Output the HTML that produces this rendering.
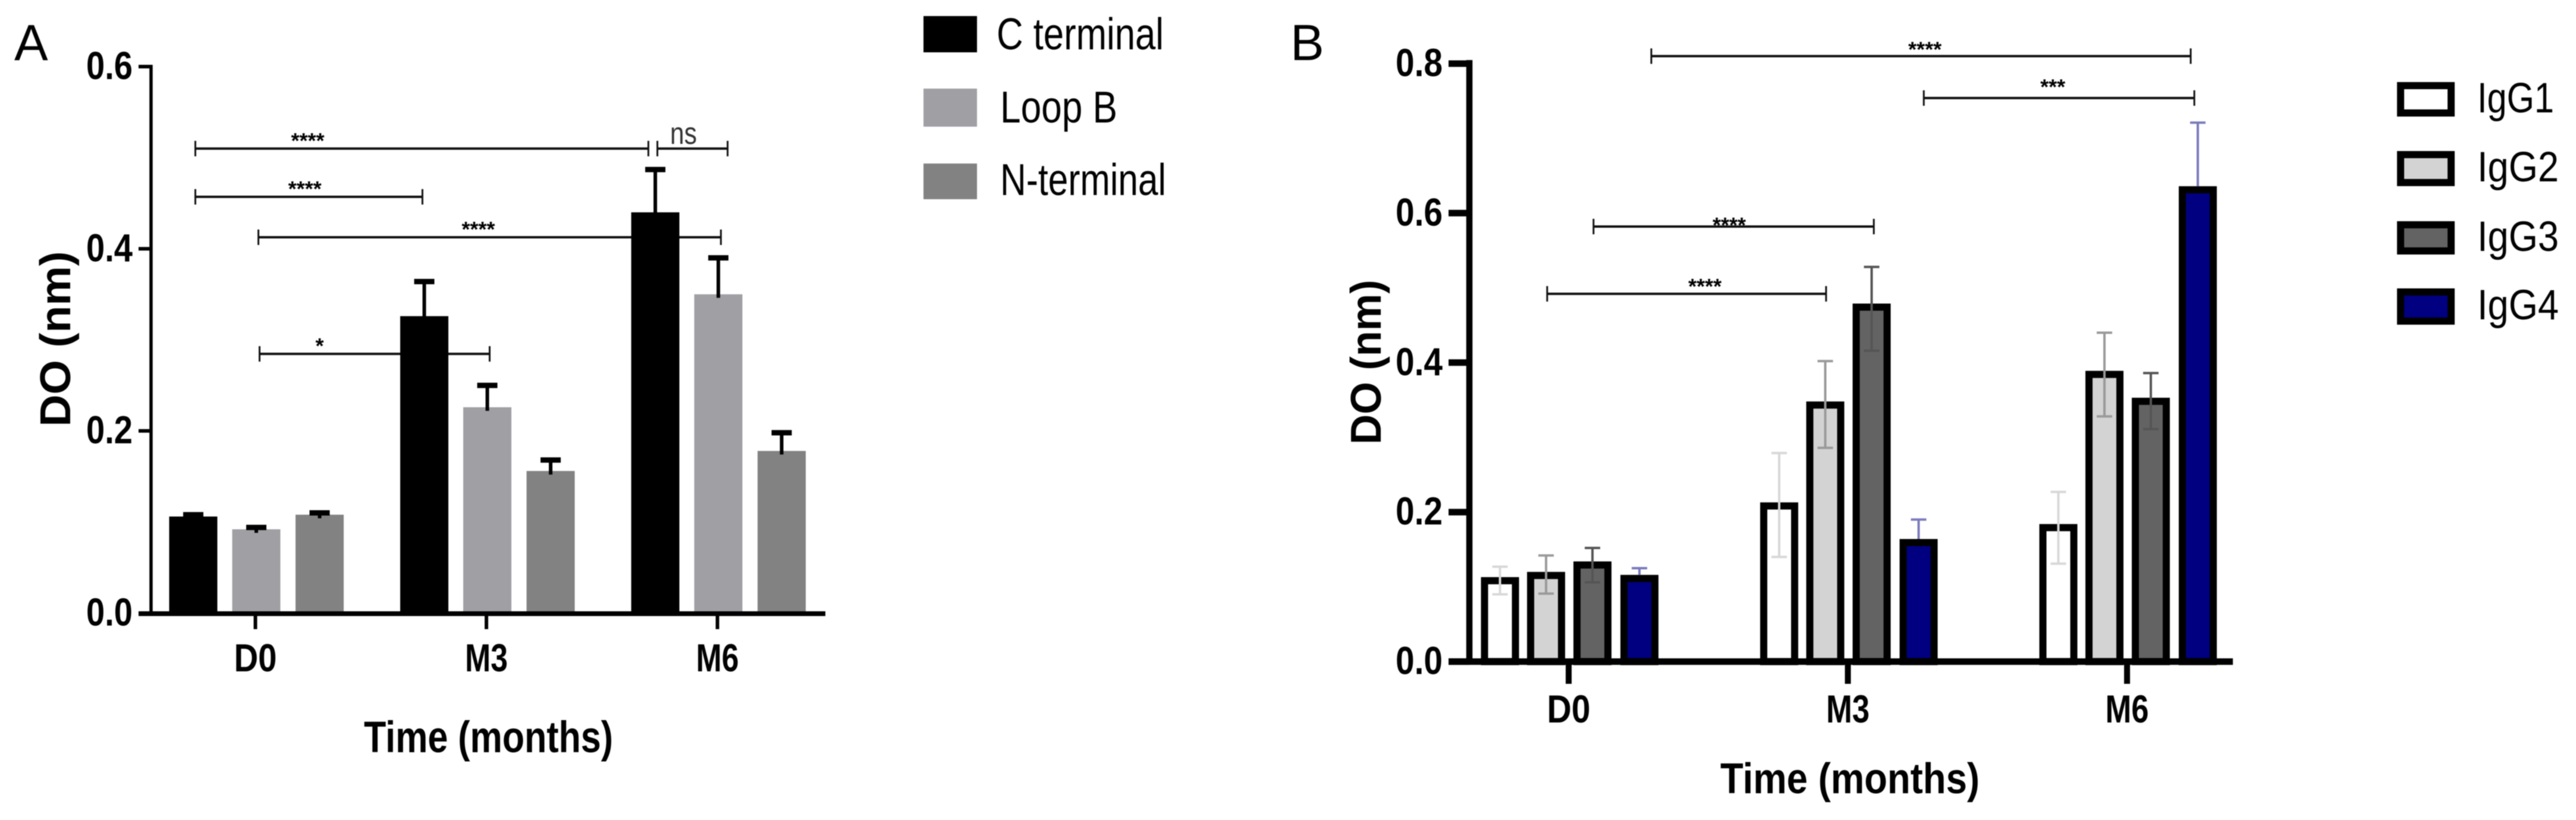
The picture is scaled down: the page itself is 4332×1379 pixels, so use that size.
<!DOCTYPE html>
<html lang="en">
<head>
<meta charset="utf-8">
<title>DO by time point: peptide regions and IgG subclasses</title>
<style>
  html, body { margin: 0; padding: 0; background: #fff; }
  svg { display: block; }
  text { font-family: "Liberation Sans", sans-serif; fill: #000; }
  .soft { filter: blur(0.9px); }
  .tick { font-weight: 700; font-size: 66px; }
  .title { font-weight: 700; font-size: 72px; }
  .legend { font-size: 75px; }
  .legend-b { font-size: 71px; }
  .letter { font-size: 85px; }
  .star { font-weight: 700; font-size: 36px; }
  .ns { font-size: 52px; fill: #333; }
</style>
</head>
<body>
<svg id="fig" xmlns="http://www.w3.org/2000/svg" width="4332" height="1379" viewBox="0 0 4332 1379">
  <rect width="4332" height="1379" fill="#fff"/>
  <g class="soft">
    <text class="letter" x="24" y="101">A</text>
    <text class="title" text-anchor="middle" transform="translate(118,570) rotate(-90)" textLength="295" lengthAdjust="spacingAndGlyphs">DO (nm)</text>
    <text class="title" style="font-size:74px" x="612" y="1265" textLength="419" lengthAdjust="spacingAndGlyphs">Time (months)</text>
    <g id="panelA"></g>
    <g>
      <g>
        <rect x="1553" y="27" width="90" height="61" fill="#000"/>
        <text class="legend" x="1676" y="83" textLength="281" lengthAdjust="spacingAndGlyphs">C terminal</text>
      </g>
      <g>
        <rect x="1553" y="149" width="90" height="64" fill="#a0a0a4"/>
        <text class="legend" x="1682" y="206" textLength="197" lengthAdjust="spacingAndGlyphs">Loop B</text>
      </g>
      <g>
        <rect x="1553" y="275" width="90" height="60" fill="#828282"/>
        <text class="legend" x="1682" y="328" textLength="279" lengthAdjust="spacingAndGlyphs">N-terminal</text>
      </g>
    </g>
  </g>
  <g class="soft">
    <text class="letter" x="2170" y="101">B</text>
    <text class="title" text-anchor="middle" transform="translate(2322,609) rotate(-90)" textLength="277" lengthAdjust="spacingAndGlyphs">DO (nm)</text>
    <text class="title" x="2893" y="1334" textLength="436" lengthAdjust="spacingAndGlyphs">Time (months)</text>
    <g id="panelB"></g>
    <g>
      <g>
        <rect x="4037" y="144" width="85" height="46" fill="#fff" stroke="#000" stroke-width="12"/>
        <text class="legend-b" x="4166" y="189" textLength="129" lengthAdjust="spacingAndGlyphs">IgG1</text>
      </g>
      <g>
        <rect x="4037" y="260" width="85" height="47" fill="#d3d3d3" stroke="#000" stroke-width="12"/>
        <text class="legend-b" x="4166" y="305" textLength="137" lengthAdjust="spacingAndGlyphs">IgG2</text>
      </g>
      <g>
        <rect x="4037" y="378" width="85" height="44" fill="#636363" stroke="#000" stroke-width="12"/>
        <text class="legend-b" x="4166" y="422" textLength="137" lengthAdjust="spacingAndGlyphs">IgG3</text>
      </g>
      <g>
        <rect x="4037" y="491" width="85" height="49" fill="#000080" stroke="#000" stroke-width="12"/>
        <text class="legend-b" x="4166" y="537" textLength="137" lengthAdjust="spacingAndGlyphs">IgG4</text>
      </g>
    </g>
  </g>
</svg>
<script>
// ---- Panel A data ----
const aCategories = ['D0', 'M3', 'M6'];
const aYTicks = [0, 0.2, 0.4, 0.6];
const aCTerminal = [0.106, 0.326, 0.44];
const aLoopB = [0.092, 0.226, 0.35];
const aNTerminal = [0.108, 0.156, 0.178];
const aCTerminalErr = [0.002, 0.038, 0.047];
const aLoopBErr = [0.002, 0.024, 0.04];
const aNTerminalErr = [0.002, 0.012, 0.02];
const aBracketFrom = [-0.26, -0.26, 0.013, 0.018, 1.74];
const aBracketTo = [1.701, 0.723, 2.015, 1.014, 2.044];
const aBracketLevel = [0.51, 0.457, 0.4126, 0.2846, 0.51];
const aBracketText = ['****', '****', '****', '*', 'ns'];
const aBracketTextAt = [0.2265, 0.214, 0.965, 0.278, 1.853];

// ---- Panel B data ----
const bCategories = ['D0', 'M3', 'M6'];
const bYTicks = [0, 0.2, 0.4, 0.6, 0.8];
const bIgG1 = [0.113, 0.213, 0.184];
const bIgG2 = [0.12, 0.348, 0.389];
const bIgG3 = [0.134, 0.479, 0.353];
const bIgG4 = [0.116, 0.164, 0.636];
const bIgG1High = [0.127, 0.279, 0.227];
const bIgG2High = [0.142, 0.402, 0.44];
const bIgG3High = [0.152, 0.528, 0.386];
const bIgG4High = [0.125, 0.19, 0.721];
const bIgG1Low = [0.09, 0.14, 0.131];
const bIgG2Low = [0.091, 0.286, 0.328];
const bIgG3Low = [0.106, 0.416, 0.311];
const bBracketFrom = [0.296, 1.272, 0.089, -0.077];
const bBracketTo = [2.228, 2.241, 1.093, 0.922];
const bBracketLevel = [0.81, 0.754, 0.582, 0.492];
const bBracketText = ['****', '***', '****', '****'];
const bBracketTextAt = [1.276, 1.734, 0.575, 0.488];
const bBracketTextLevel = [0.809, 0.759, 0.574, 0.492];

const SVG_NS = 'http://www.w3.org/2000/svg';
function make(tag, parent, attrs) {
  const node = document.createElementNS(SVG_NS, tag);
  for (const k in attrs) node.setAttribute(k, attrs[k]);
  parent.appendChild(node);
  return node;
}

// ---- Panel A scales ----
const aY = v => 1031 - v * (919 / 0.6);
const aX = c => 429.5 + 388.5 * c;
const aOffsets = [-104.5, 1.5, 108];
const aFills = ['#000000', '#a0a0a4', '#828282'];
const aSlugs = ['c-terminal', 'loop-b', 'n-terminal'];
const aSeries = [aCTerminal, aLoopB, aNTerminal];
const aSeriesErr = [aCTerminalErr, aLoopBErr, aNTerminalErr];
const aRoot = document.getElementById('panelA');

// Panel A significance brackets
aBracketText.forEach((label, i) => {
  const y = aY(aBracketLevel[i]);
  const x1 = aX(aBracketFrom[i]);
  const x2 = aX(aBracketTo[i]);
  const g = make('g', aRoot, {});
  
  
  make('path', g, { d: `M${x1} ${y}H${x2}`, fill: 'none', stroke: '#111', 'stroke-width': 4 });
  make('path', g, { d: `M${x1} ${y - 13}V${y + 13}M${x2} ${y - 13}V${y + 13}`, fill: 'none', stroke: '#111', 'stroke-width': 3 });
  const isNs = label === 'ns';
  const t = make('text', g, { x: aX(aBracketTextAt[i]), y: isNs ? y - 8 : y - 1, 'text-anchor': 'middle', class: isNs ? 'ns' : 'star' });
  if (label === '****') t.setAttribute('textLength', 56);
  if (isNs) {
    t.setAttribute('textLength', 45);
    t.setAttribute('lengthAdjust', 'spacingAndGlyphs');
  }
  
  
  t.textContent = label;
});

// Panel A bars and error bars
aSeries.forEach((values, s) => {
  values.forEach((v, c) => {
    const cx = aX(c) + aOffsets[s];
    const top = aY(v);
    const bar = make('rect', aRoot, { x: cx - 40.5, y: top, width: 81, height: aY(0) - top, fill: aFills[s] });
    
    
    const errTop = aY(v + aSeriesErr[s][c]);
    const err = make('g', aRoot, {});
    
    
    make('path', err, { d: `M${cx} ${top + 6}V${errTop}`, fill: 'none', stroke: '#000', 'stroke-width': 6 });
    make('path', err, { d: `M${cx - 17} ${errTop}H${cx + 17}`, fill: 'none', stroke: '#000', 'stroke-width': 9 });
  });
});

// Panel A axes
const aYAxis = make('path', aRoot, { d: `M254 ${aY(0.6) - 3}V${aY(0) + 3}`, stroke: '#000', 'stroke-width': 5.5, fill: 'none' });


const aXAxis = make('path', aRoot, { d: `M233 ${aY(0) + 1}H1388`, stroke: '#000', 'stroke-width': 8, fill: 'none' });


aYTicks.forEach(v => {
  const tick = make('path', aRoot, { d: `M233 ${aY(v) + (v === 0 ? 1 : 0)}H254`, stroke: '#000', 'stroke-width': 6, fill: 'none' });
  
  
  const lab = make('text', aRoot, { x: 223, y: aY(v) + 21, 'text-anchor': 'end', class: 'tick', textLength: 78, lengthAdjust: 'spacingAndGlyphs' });
  
  
  lab.textContent = v.toFixed(1);
});
aCategories.forEach((name, c) => {
  const tick = make('path', aRoot, { d: `M${aX(c)} ${aY(0)}V1058`, stroke: '#000', 'stroke-width': 6, fill: 'none' });
  
  
  const lab = make('text', aRoot, { x: aX(c), y: 1129, 'text-anchor': 'middle', class: 'tick', textLength: 72, lengthAdjust: 'spacingAndGlyphs' });
  
  
  lab.textContent = name;
});

// ---- Panel B scales ----
const bY = v => 1112.6 - v * 1257;
const bX = c => 2638 + 469.5 * c;
const bOffsets = [-115.5, -38, 40, 119];
const bFills = ['#ffffff', '#d3d3d3', '#636363', '#000080'];
const bErrColors = ['#d8d8d8', '#9a9a9a', '#555555', '#7a7abc'];
const bSlugs = ['igg1', 'igg2', 'igg3', 'igg4'];
const bSeries = [bIgG1, bIgG2, bIgG3, bIgG4];
const bSeriesHigh = [bIgG1High, bIgG2High, bIgG3High, bIgG4High];
const bSeriesLow = [bIgG1Low, bIgG2Low, bIgG3Low, null];
const bRoot = document.getElementById('panelB');

// Panel B significance brackets
bBracketText.forEach((label, i) => {
  const y = bY(bBracketLevel[i]);
  const x1 = bX(bBracketFrom[i]);
  const x2 = bX(bBracketTo[i]);
  const g = make('g', bRoot, {});
  
  
  make('path', g, { d: `M${x1} ${y}H${x2}`, fill: 'none', stroke: '#111', 'stroke-width': 4 });
  make('path', g, { d: `M${x1} ${y - 13}V${y + 13}M${x2} ${y - 13}V${y + 13}`, fill: 'none', stroke: '#111', 'stroke-width': 3 });
  const t = make('text', g, { x: bX(bBracketTextAt[i]), y: bY(bBracketTextLevel[i]), 'text-anchor': 'middle', class: 'star' });
  
  
  t.textContent = label;
});

// Panel B bars and error bars
bSeries.forEach((values, s) => {
  values.forEach((v, c) => {
    const cx = bX(c) + bOffsets[s];
    const top = bY(v) + 6;
    const bar = make('rect', bRoot, { x: cx - 26, y: top, width: 52, height: bY(0) - top, fill: bFills[s], stroke: '#000', 'stroke-width': 12 });
    
    
    const hi = bY(bSeriesHigh[s][c]);
    const lowSeries = bSeriesLow[s];
    const lo = lowSeries ? bY(lowSeries[c]) : bY(v);
    const lowCap = lowSeries ? `M${cx - 13} ${lo}H${cx + 13}` : '';
    const err = make('path', bRoot, { d: `M${cx - 13} ${hi}H${cx + 13}M${cx} ${hi}V${lo}${lowCap}`, fill: 'none', stroke: bErrColors[s], 'stroke-width': 4 });
    
    
  });
});

// Panel B axes
const bYAxis = make('path', bRoot, { d: `M2471 ${bY(0.8) - 6}V${bY(0) + 5}`, stroke: '#000', 'stroke-width': 10.5, fill: 'none' });


const bXAxis = make('path', bRoot, { d: `M2436 ${bY(0)}H3755`, stroke: '#000', 'stroke-width': 11, fill: 'none' });


bYTicks.forEach(v => {
  const tick = make('path', bRoot, { d: `M2436 ${bY(v)}H2471`, stroke: '#000', 'stroke-width': 11, fill: 'none' });
  
  
  const lab = make('text', bRoot, { x: 2426, y: bY(v) + 21, 'text-anchor': 'end', class: 'tick', textLength: 79, lengthAdjust: 'spacingAndGlyphs' });
  
  
  lab.textContent = v.toFixed(1);
});
bCategories.forEach((name, c) => {
  const tick = make('path', bRoot, { d: `M${bX(c)} ${bY(0)}V1150`, stroke: '#000', 'stroke-width': 10, fill: 'none' });
  
  
  const lab = make('text', bRoot, { x: bX(c), y: 1215, 'text-anchor': 'middle', class: 'tick', textLength: 73, lengthAdjust: 'spacingAndGlyphs' });
  
  
  lab.textContent = name;
});
</script>
</body>
</html>
